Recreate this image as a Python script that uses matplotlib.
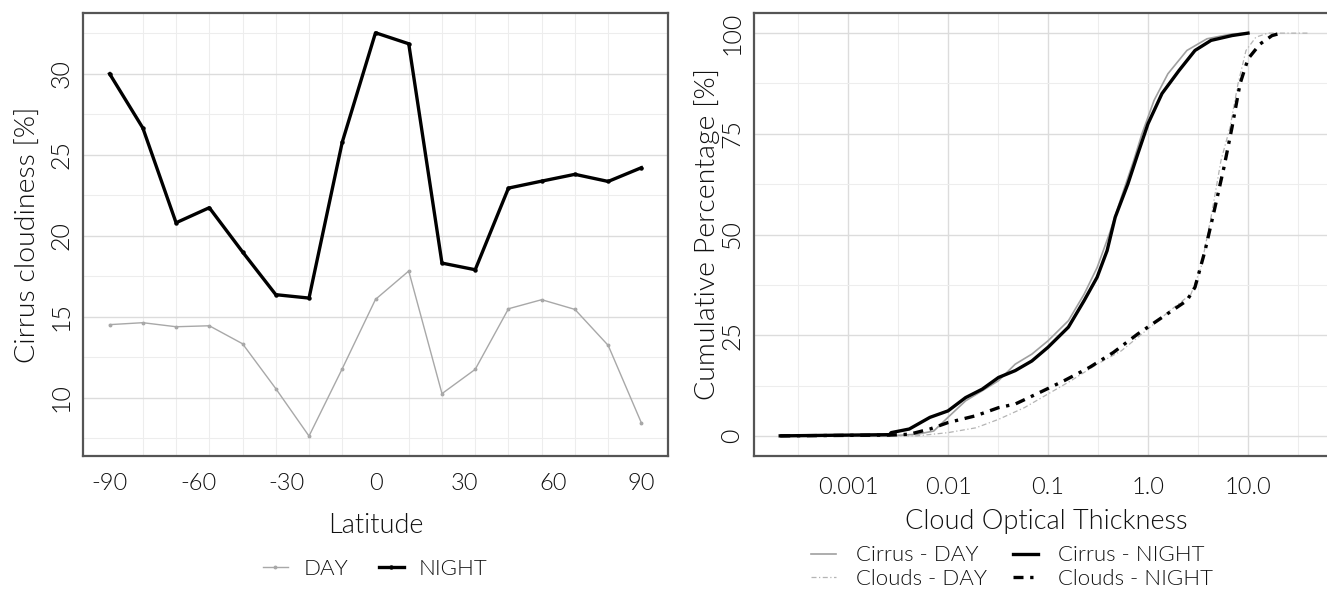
import numpy as np
import matplotlib
matplotlib.use("Agg")
import matplotlib.pyplot as plt
from matplotlib import font_manager
from matplotlib.ticker import FixedLocator, NullFormatter

# pick a light (300) weight of an installed sans family, if there is one
light_family, light_weight = 'Lato', 'normal'
for fam in ['Lato', 'Roboto', 'Open Sans', 'Inter', 'Noto Sans']:
    ws = [f.weight for f in font_manager.fontManager.ttflist if f.name == fam]
    if 300 in ws or 'light' in ws:
        light_family, light_weight = fam, 300
        break
plt.rcParams['font.family'] = [light_family, 'DejaVu Sans']
plt.rcParams['font.weight'] = light_weight
plt.rcParams['axes.labelweight'] = light_weight
plt.rcParams['axes.unicode_minus'] = False

# --- Left panel: cirrus cloudiness by latitude ---
latitude = [-90, -78.75, -67.5, -56.25, -45, -33.75, -22.5, -11.25, 0,
            11.25, 22.5, 33.75, 45, 56.25, 67.5, 78.75, 90]
night_cirrus = [30.0, 26.65, 20.8, 21.73, 19.0, 16.36, 16.15, 25.78, 32.53,
                31.85, 18.31, 17.9, 22.94, 23.37, 23.79, 23.35, 24.2]
day_cirrus = [14.51, 14.63, 14.38, 14.44, 13.33, 10.56, 7.63, 11.79, 16.07,
              17.82, 10.25, 11.75, 15.49, 16.05, 15.45, 13.23, 8.44]
lat_ticks = [-90, -60, -30, 0, 30, 60, 90]

# --- Right panel: cumulative distribution of cloud optical thickness ---
cirrus_night_cot = [0.00021, 0.0026, 0.0027, 0.0041, 0.0066, 0.01, 0.015, 0.022, 0.032,
                    0.047, 0.069, 0.1, 0.16, 0.23, 0.31, 0.39, 0.47, 0.63, 0.79,
                    1.0, 1.38, 2.04, 2.95, 4.27, 6.92, 10.0]
cirrus_night_pct = [0, 0.3, 0.8, 1.7, 4.6, 6.2, 9.5, 11.6, 14.5,
                    16.2, 18.6, 22.0, 27.0, 33.6, 39.4, 46.0, 54.3, 62.6, 70.0,
                    77.5, 85.0, 90.7, 95.7, 98.2, 99.4, 100]
cirrus_day_cot = [0.00021, 0.0026, 0.0049, 0.0072, 0.01, 0.015, 0.022, 0.032, 0.047,
                  0.069, 0.1, 0.16, 0.23, 0.31, 0.41, 0.54, 0.72, 0.87, 1.15,
                  1.58, 2.45, 3.89, 6.92, 10.0]
cirrus_day_pct = [0, 0, 0.4, 1.2, 4.6, 8.7, 11.2, 13.7, 17.8,
                  20.3, 23.6, 28.6, 35.2, 41.8, 50.1, 59.2, 68.4, 75.0, 83.3,
                  89.9, 95.7, 98.6, 99.8, 100]
clouds_night_cot = [0.00021, 0.0026, 0.0041, 0.0066, 0.01, 0.019, 0.032, 0.047, 0.083,
                    0.145, 0.26, 0.45, 0.79, 1.38, 2.45, 2.95, 3.72, 4.68, 5.75,
                    6.92, 8.32, 10.0, 13.2, 17.4, 21.4]
clouds_night_pct = [0, 0.2, 0.4, 1.7, 3.3, 5.0, 7.0, 7.9, 10.8,
                    13.7, 17.0, 20.7, 25.3, 29.4, 33.6, 36.9, 46.0, 56.8, 66.7,
                    76.6, 87.4, 93.6, 97.3, 99.4, 100]
clouds_day_cot = [0.00021, 0.0026, 0.0049, 0.01, 0.019, 0.032, 0.058, 0.1, 0.17,
                  0.31, 0.54, 0.95, 1.66, 2.69, 3.39, 4.27, 5.37, 6.61, 7.94,
                  9.55, 12.0, 15.8, 40.7]
clouds_day_pct = [0, 0, 0, 0.8, 2.0, 4.1, 7.0, 10.4, 13.7,
                  17.8, 21.1, 26.1, 31.1, 35.2, 41.8, 54.3, 68.4, 76.6, 87.4,
                  95.7, 99.0, 100, 100]
cot_ticks = [0.001, 0.01, 0.1, 1.0, 10.0]
cot_labels = ['0.001', '0.01', '0.1', '1.0', '10.0']

W, H = 1327, 596
fig = plt.figure(figsize=(W / 100, H / 100), dpi=100)

frame_col = '#555555'
major_grid = '#DCDCDC'
minor_grid = '#EDEDED'
text_col = '#111111'


def style_axes(ax):
    for s in ax.spines.values():
        s.set_color(frame_col)
        s.set_linewidth(1.6)
    ax.tick_params(which='both', length=0, labelsize=17, colors=text_col)
    ax.tick_params(axis='y', which='major', labelrotation=90, pad=7, labelsize=18)
    ax.grid(which='major', color=major_grid, linewidth=1.0)
    ax.grid(which='minor', color=minor_grid, linewidth=0.8)
    ax.set_axisbelow(True)
    for lab in ax.get_yticklabels():
        lab.set_va('center')


# ----- left -----
ax1 = fig.add_axes([83 / W, 1 - 456 / H, 585 / W, 443 / H])
ax1.plot(latitude, day_cirrus, color='#A8A8A8', lw=1.0, marker='o', ms=1.8, label='DAY')
ax1.plot(latitude, night_cirrus, color='black', lw=2.4, marker='o', ms=2.2, label='NIGHT')
ax1.set_xlim(-99, 99)
ax1.set_ylim(6.4, 33.75)
ax1.xaxis.set_major_locator(FixedLocator(lat_ticks))
ax1.xaxis.set_minor_locator(FixedLocator(latitude))
ax1.yaxis.set_major_locator(FixedLocator([10, 15, 20, 25, 30]))
ax1.yaxis.set_minor_locator(FixedLocator([7.5, 12.5, 17.5, 22.5, 27.5, 32.5]))
style_axes(ax1)
ax1.grid(which='major', axis='x', visible=False)
ax1.tick_params(axis='x', pad=12)
ax1.set_xlabel('Latitude', fontsize=19.5, labelpad=14, color=text_col)
ax1.set_ylabel('Cirrus cloudiness [%]', fontsize=20.5, labelpad=6, color=text_col)
fig.legend(*ax1.get_legend_handles_labels(), loc='center', ncol=2,
           bbox_to_anchor=((83 + 668) / 2 / W, 1 - 569 / H), frameon=False,
           fontsize=16, handlelength=1.1, handletextpad=0.7, columnspacing=1.4,
           labelcolor=text_col)

# ----- right -----
ax2 = fig.add_axes([754 / W, 1 - 456 / H, 585 / W, 443 / H])
ax2.plot(cirrus_day_cot, cirrus_day_pct, color='#A0A0A0', lw=1.2, label='Cirrus - DAY')
ax2.plot(clouds_day_cot, clouds_day_pct, color='#B4B4B4', lw=0.9, ls=(0, (4, 2, 1, 2)),
         label='Clouds - DAY')
ax2.plot(cirrus_night_cot, cirrus_night_pct, color='black', lw=2.4, label='Cirrus - NIGHT')
ax2.plot(clouds_night_cot, clouds_night_pct, color='black', lw=2.4, ls=(0, (3, 2, 1, 2)),
         label='Clouds - NIGHT')
ax2.set_xscale('log')
ax2.set_xlim(10 ** -3.94, 10 ** 1.91)
ax2.set_ylim(-5, 105)
ax2.xaxis.set_major_locator(FixedLocator(cot_ticks))
ax2.xaxis.set_minor_locator(FixedLocator([10 ** (k + 0.5) for k in range(-4, 2)]))
ax2.xaxis.set_minor_formatter(NullFormatter())
ax2.set_xticklabels(cot_labels)
ax2.yaxis.set_major_locator(FixedLocator([0, 25, 50, 75, 100]))
ax2.yaxis.set_minor_locator(FixedLocator([12.5, 37.5, 62.5, 87.5]))
style_axes(ax2)
ax2.tick_params(axis='x', pad=15)
ax2.set_xlabel('Cloud Optical Thickness', fontsize=19.5, labelpad=8, color=text_col)
ax2.set_ylabel('Cumulative Percentage [%]', fontsize=20.5, labelpad=0, color=text_col)
fig.legend(*ax2.get_legend_handles_labels(), loc='center', ncol=2,
           bbox_to_anchor=(1012 / W, 1 - 567 / H), frameon=False,
           fontsize=16, handlelength=1.1, handletextpad=0.9, columnspacing=1.2,
           labelspacing=0.15, labelcolor=text_col)

fig.savefig('out.png', dpi=100)
